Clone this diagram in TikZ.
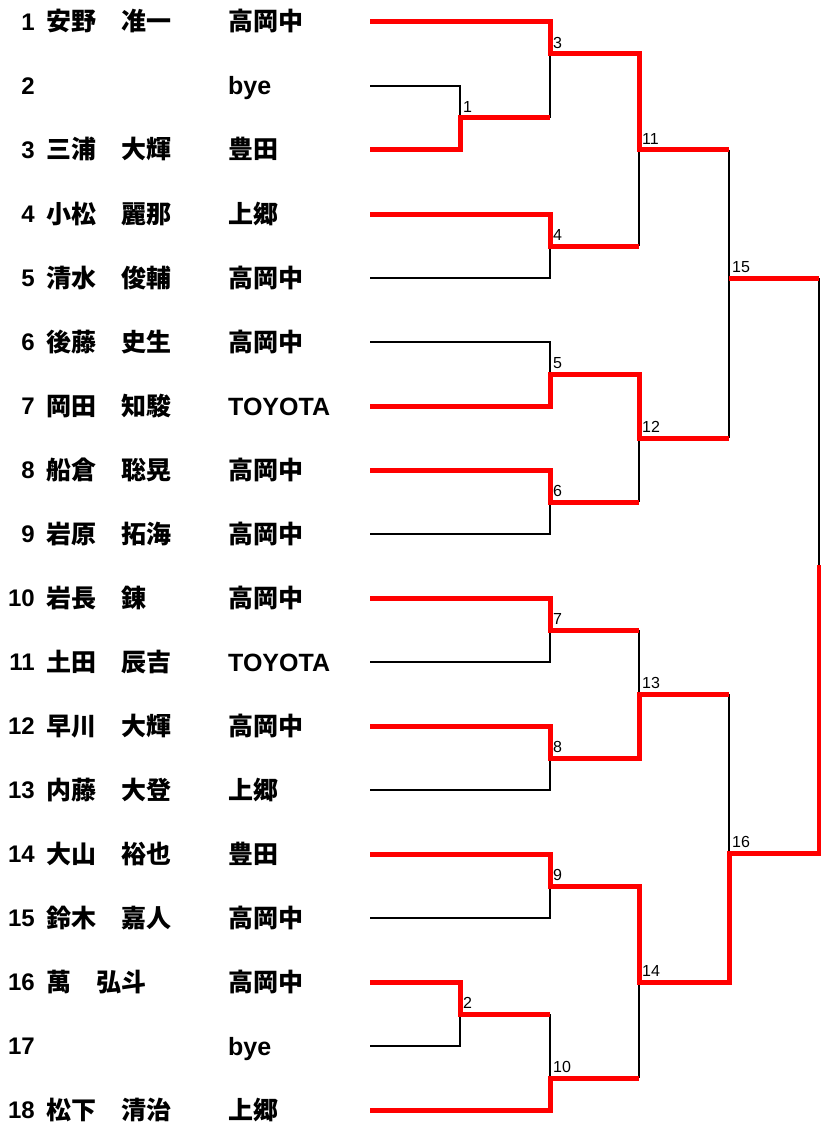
\documentclass[tikz,border=0pt]{standalone}
\usepackage{fontspec}
\setmainfont{Liberation Sans}
\newfontfamily\jp{Noto Sans CJK JP}
\newcommand\toyota{{\normalfont\bfseries TOYOTA}}
\newcommand\byeword{{\normalfont\bfseries bye}}

\begin{document}
\begin{tikzpicture}[x=1pt,y=-1pt,
    win/.style={color=red, line width=5pt},
    lose/.style={color=black, line width=1.2pt},
    seed/.style={anchor=base east, inner sep=0pt, font=\fontsize{24}{24}\selectfont\bfseries},
    player/.style={anchor=base west, inner sep=0pt, font=\fontsize{25}{25}\selectfont\jp\bfseries},
    game/.style={anchor=south west, inner sep=0pt, xshift=3pt, yshift=5.5pt, font=\fontsize{16}{16}\selectfont}]
    \useasboundingbox (0,0) rectangle (821,1126);

    \foreach \i/\nm/\sc in {1/安野　准一/高岡中, 2//\byeword, 3/三浦　大輝/豊田,
        4/小松　麗那/上郷, 5/清水　俊輔/高岡中, 6/後藤　史生/高岡中,
        7/岡田　知駿/\toyota, 8/船倉　聡晃/高岡中, 9/岩原　拓海/高岡中,
        10/岩長　錬/高岡中, 11/土田　辰吉/\toyota, 12/早川　大輝/高岡中,
        13/内藤　大登/上郷, 14/大山　裕也/豊田, 15/鈴木　嘉人/高岡中,
        16/萬　弘斗/高岡中, 17//\byeword, 18/松下　清治/上郷}{
        \coordinate (r\i) at (370,22+64*\i-64);
        \node[seed] (n\i) at (35,30.5+64*\i-64) {\i};
        \node[player] (p\i) at (46,31+64*\i-64) {\nm};
        \node[player] (s\i) at (228,31+64*\i-64) {\sc};
    }

    \foreach \m/\x/\y in {1/460/118, 2/460/1014, 3/550/54, 4/550/246, 5/550/374,
        6/550/502, 7/550/630, 8/550/758, 9/550/886, 10/550/1078, 11/639/150,
        12/639/438, 13/639/694, 14/639/982, 15/729/278, 16/729/853}{
        \coordinate (m\m) at (\x,\y);
        \node[game] (g\m) at (m\m) {\m};
    }
    \coordinate (fin) at (819,565);

    \foreach \a/\b in {r2/m1, r5/m4, r6/m5, r9/m6, r11/m7, r13/m8, r15/m9, r17/m2}
        \draw[lose] (\a) -| (\b);
    \foreach \a/\b in {m1/m3, m2/m10, m4/m11, m6/m12, m7/m13, m10/m14, m13/m16, m15/fin}
        \draw[lose] (\a -| \b) -- (\b);
    \draw[lose] (m11 -| m15) -- (m12 -| m15);

    \draw[win] (r1) -| (m3) -| (m11) -- (m11 -| m15);
    \draw[win] (r3) -| (m1) -- (m1 -| m3);
    \draw[win] (r4) -| (m4) -- (m4 -| m11);
    \draw[win] (r7) -| (m5) -| (m12) -- (m12 -| m15);
    \draw[win] (r8) -| (m6) -- (m6 -| m12);
    \draw[win] (r10) -| (m7) -- (m7 -| m13);
    \draw[win] (r12) -| (m8) -| (m13) -- (m13 -| m16);
    \draw[win] (r14) -| (m9) -| (m14) -| (m16) -| (fin);
    \draw[win] (r16) -| (m2) -- (m2 -| m10);
    \draw[win] (r18) -| (m10) -- (m10 -| m14);
    \draw[win] (m15) -- (m15 -| fin);
\end{tikzpicture}
\end{document}
